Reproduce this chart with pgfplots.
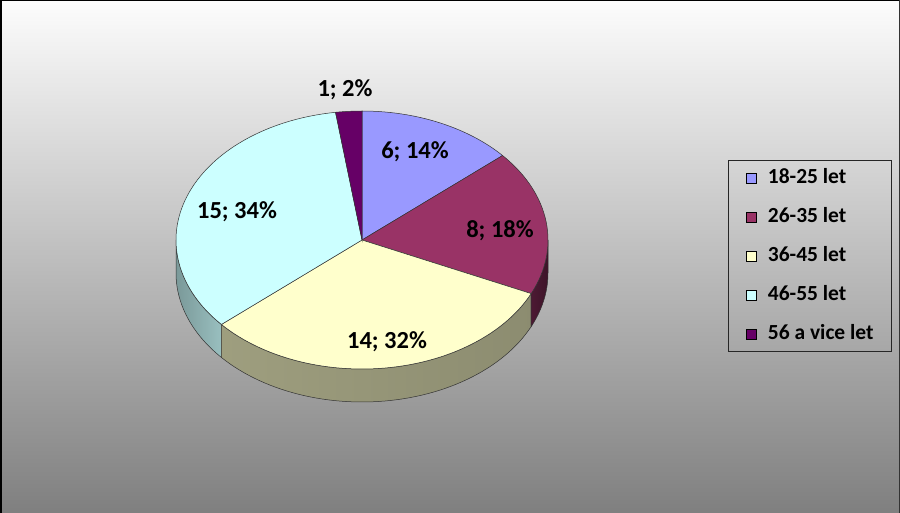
\documentclass[border=0pt]{standalone}
\usepackage{pgfplots}
\pgfplotsset{compat=1.18}
\usepackage{fontspec}
\setmainfont{Carlito}
\definecolor{cA}{HTML}{9999FF}
\definecolor{cB}{HTML}{993366}
\definecolor{cC}{HTML}{FFFFCC}
\definecolor{cD}{HTML}{CCFFFF}
\definecolor{cE}{HTML}{660066}
\begin{document}
\begin{tikzpicture}
% pocty respondentu podle veku
\def\vA{6}\def\vB{8}\def\vC{14}\def\vD{15}\def\vE{1}
\pgfmathsetmacro\tot{\vA+\vB+\vC+\vD+\vE}
\pgfmathsetmacro\aA{90}
\pgfmathsetmacro\aB{\aA-360*\vA/\tot}
\pgfmathsetmacro\aC{\aB-360*\vB/\tot}
\pgfmathsetmacro\aD{\aC-360*\vC/\tot}
\pgfmathsetmacro\aE{\aD-360*\vD/\tot}
\pgfmathsetmacro\aF{\aE-360*\vE/\tot}
% geometrie kolace (v pixelech)
\def\cx{362}\def\cy{240}\def\rx{186}\def\ry{129}\def\dz{33}
\pgfmathsetmacro\xC{\cx+\rx*cos(\aC)}\pgfmathsetmacro\yC{\cy-\ry*sin(\aC)}
\pgfmathsetmacro\xD{\cx+\rx*cos(\aD)}\pgfmathsetmacro\yD{\cy-\ry*sin(\aD)}
\pgfmathsetmacro\xZ{\cx+\rx}
\begin{axis}[
  scale only axis, width=900pt, height=512pt,
  xmin=0, xmax=900, ymin=0, ymax=512, y dir=reverse,
  hide axis, clip=false,
  legend image code/.code={\draw[#1, draw=black, line width=0.5pt] (0pt,-5pt) rectangle (10pt,5pt);},
  legend cell align=left,
  legend style={at={(axis cs:728,160)}, anchor=north west,
    draw=black!85, fill=none, line width=0.8pt,
    font=\fontsize{21.5}{22}\selectfont\bfseries,
    inner xsep=18pt, inner ysep=8pt, row sep=20pt,
    nodes={inner sep=0pt, text height=15pt, text depth=4pt},
    /tikz/every odd column/.append style={column sep=11pt}},
]
\fill[black!50] (axis cs:-10,500) rectangle (axis cs:910,530);
\fill[top color=white, bottom color=black!50] (axis cs:-10,-10) rectangle (axis cs:910,512);
\draw[black, line width=2pt] (axis cs:1,0) -- (axis cs:1,514);
\draw[black, line width=1.5pt] (axis cs:0,0.75) -- (axis cs:900,0.75);
\draw[black!80, line width=1pt] (axis cs:899.5,0) -- (axis cs:899.5,514);

% bocni steny (predni polovina)
\addplot[forget plot, draw=black!80, line width=0.5pt, left color=black!40!cD, right color=black!25!cD,
  domain=-180:\aD, samples=40]
  ({\cx+\rx*cos(x)},{\cy+\dz-\ry*sin(x)}) -- (axis cs:\xD,\yD)
  arc[start angle=\aD, end angle=-180, x radius=\rx pt, y radius=\ry pt] -- cycle;
\addplot[forget plot, draw=black!80, line width=0.5pt, left color=black!38!cC, middle color=black!55!cC, right color=black!45!cC,
  domain=\aD:\aC, samples=60]
  ({\cx+\rx*cos(x)},{\cy+\dz-\ry*sin(x)}) -- (axis cs:\xC,\yC)
  arc[start angle=\aC, end angle=\aD, x radius=\rx pt, y radius=\ry pt] -- cycle;
\addplot[forget plot, draw=black!80, line width=0.5pt, left color=black!50!cB, right color=black!60!cB,
  domain=\aC:0, samples=30]
  ({\cx+\rx*cos(x)},{\cy+\dz-\ry*sin(x)}) -- (axis cs:\xZ,\cy)
  arc[start angle=0, end angle=\aC, x radius=\rx pt, y radius=\ry pt] -- cycle;

% horni plocha
\addplot[fill=cA, draw=black!80, line width=0.5pt, domain=\aB:\aA, samples=40]
  ({\cx+\rx*cos(x)},{\cy-\ry*sin(x)}) -- (axis cs:\cx,\cy) -- cycle;
\addlegendentry{18-25 let}
\addplot[fill=cB, draw=black!80, line width=0.5pt, domain=\aC:\aB, samples=40]
  ({\cx+\rx*cos(x)},{\cy-\ry*sin(x)}) -- (axis cs:\cx,\cy) -- cycle;
\addlegendentry{26-35 let}
\addplot[fill=cC, draw=black!80, line width=0.5pt, domain=\aD:\aC, samples=60]
  ({\cx+\rx*cos(x)},{\cy-\ry*sin(x)}) -- (axis cs:\cx,\cy) -- cycle;
\addlegendentry{36-45 let}
\addplot[fill=cD, draw=black!80, line width=0.5pt, domain=\aE:\aD, samples=60]
  ({\cx+\rx*cos(x)},{\cy-\ry*sin(x)}) -- (axis cs:\cx,\cy) -- cycle;
\addlegendentry{46-55 let}
\addplot[fill=cE, draw=black!80, line width=0.5pt, domain=\aF:\aE, samples=10]
  ({\cx+\rx*cos(x)},{\cy-\ry*sin(x)}) -- (axis cs:\cx,\cy) -- cycle;
\addlegendentry{56 a vice let}

% popisky dat
\tikzset{lbl/.style={font=\fontsize{24.5}{25}\selectfont\bfseries, inner sep=0pt}}
\node[lbl] at (axis cs:345,90) {1; 2\%};
\node[lbl] at (axis cs:415,152) {6; 14\%};
\node[lbl] at (axis cs:500,231) {8; 18\%};
\node[lbl] at (axis cs:387,342) {14; 32\%};
\node[lbl] at (axis cs:237,212) {15; 34\%};
\coordinate (bl) at (axis cs:0,512.6);
\coordinate (tr) at (axis cs:900,0);
\end{axis}
\pgfresetboundingbox
\path[use as bounding box] (bl) rectangle (tr);
\end{tikzpicture}
\end{document}
